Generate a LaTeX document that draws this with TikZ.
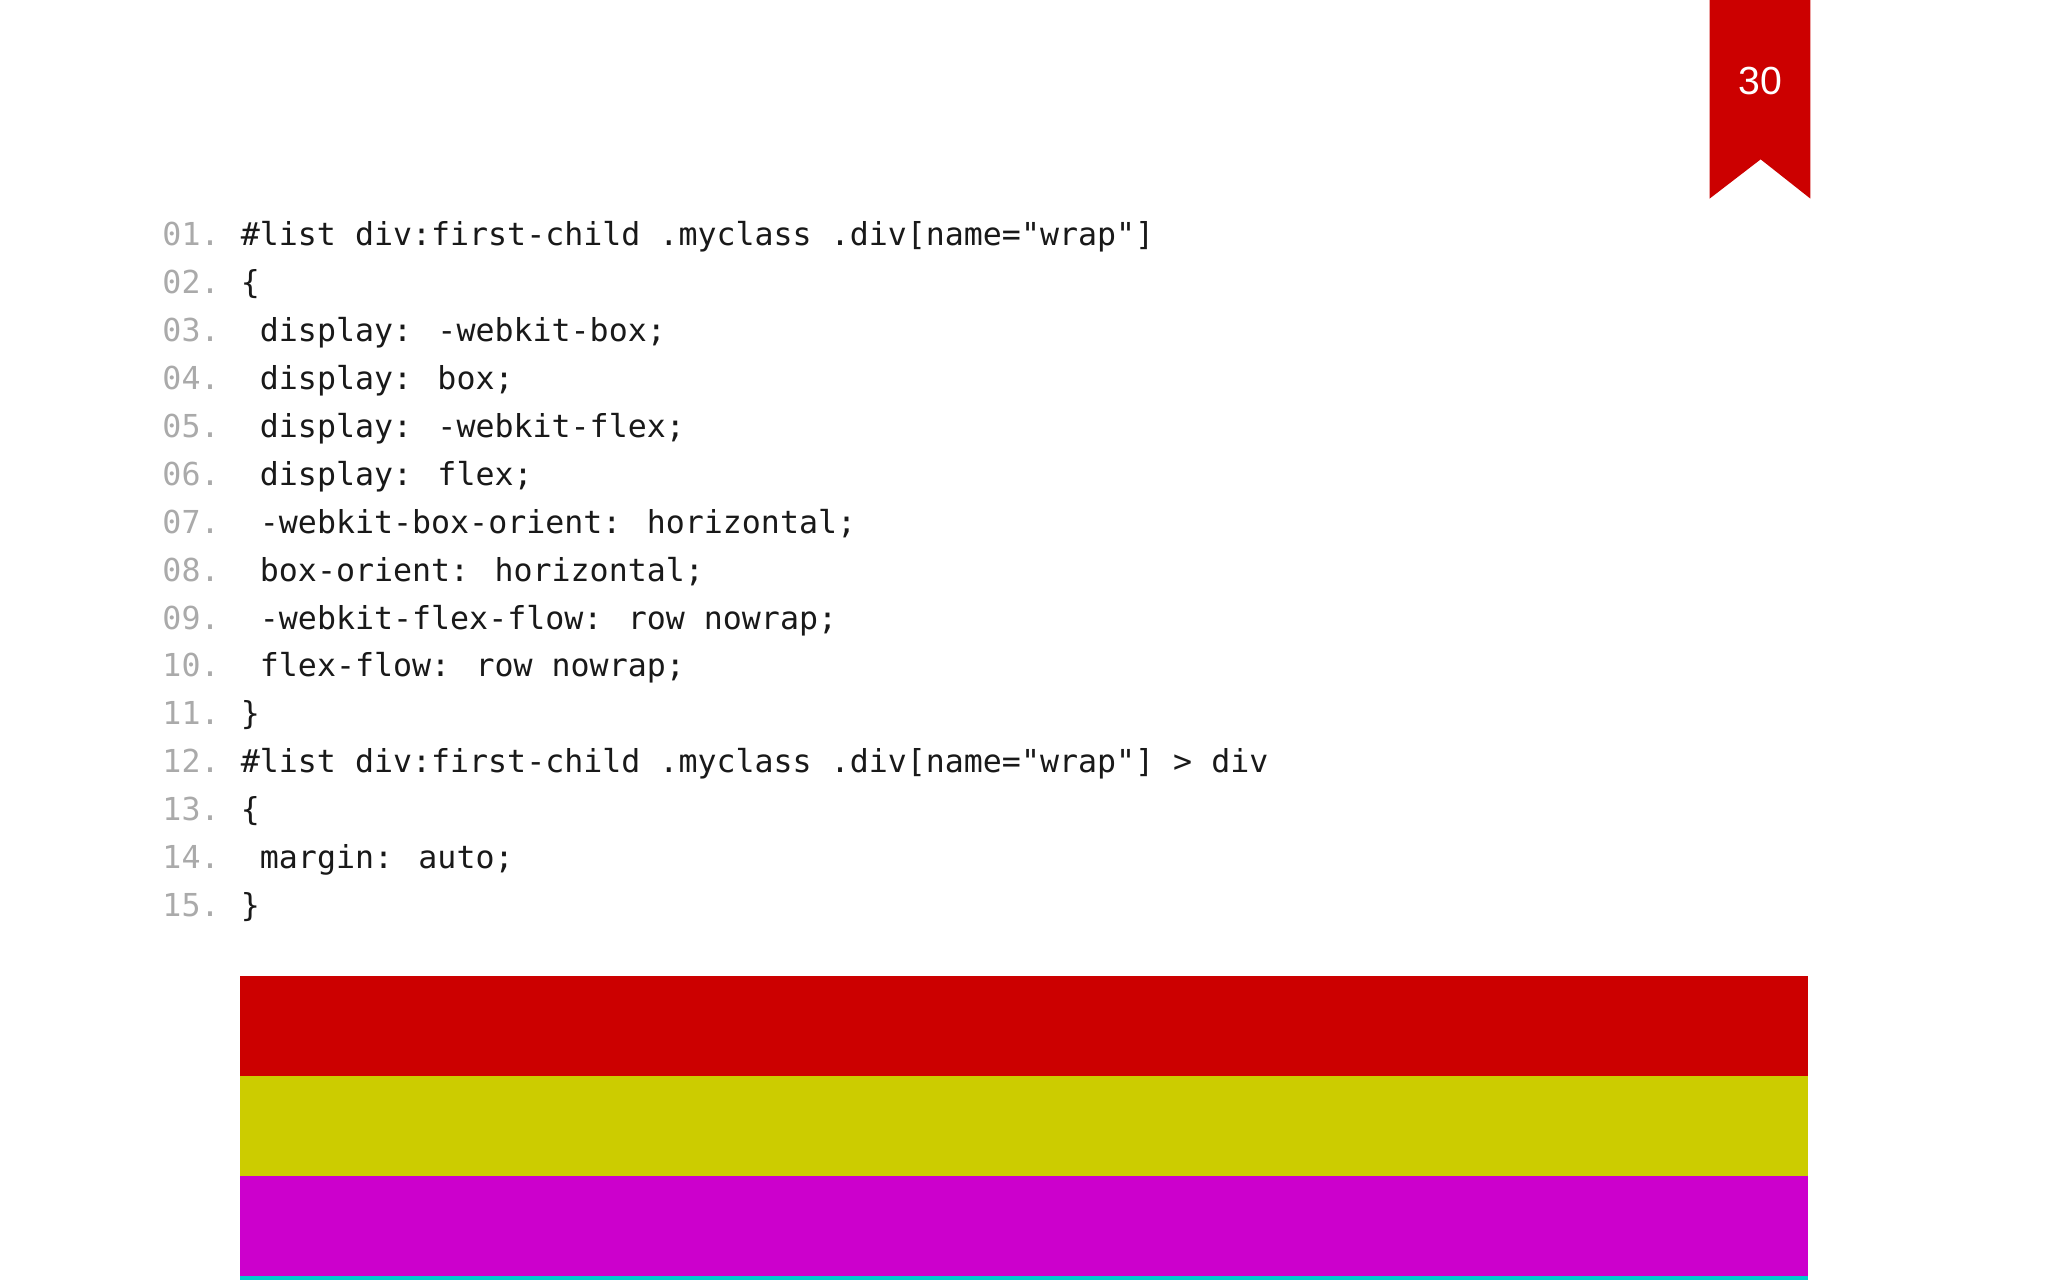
\documentclass[tikz,border=0pt]{standalone}
\usepackage{fontspec}
\setmainfont{Liberation Sans}
\newfontfamily\codefont{DejaVu Sans Mono}
\definecolor{rd}{HTML}{CC0000}
\definecolor{yl}{HTML}{CCCC00}
\definecolor{mg}{HTML}{CC00CC}
\definecolor{cy}{HTML}{00CCCC}
\definecolor{numgray}{HTML}{AAAAAA}
\tikzset{
 code/.style={anchor=base west,inner sep=0pt,font=\codefont\fontsize{12.1}{14}\selectfont,text=black!90},
 num/.style={code,text=numgray},
}
\begin{document}
\begin{tikzpicture}[x=0.5pt,y=-0.5pt]
\useasboundingbox (0,0) rectangle (1568,980);
\fill[white] (0,0) rectangle (1568,980);
\fill[rd] (1309,0) -- (1386,0) -- (1386,152) -- (1348,122) -- (1309,152) -- cycle;
\node[text=white,font=\fontsize{15}{18}\selectfont] (pg) at (1348,62) {30};
\foreach \n/\t/\ind [count=\i] in {
 01/{\#list div:first-child .myclass .div[name="wrap"]}/0,
 02/{\{}/0,
 03/{display: -webkit-box;}/1,
 04/{display: box;}/1,
 05/{display: -webkit-flex;}/1,
 06/{display: flex;}/1,
 07/{-webkit-box-orient: horizontal;}/1,
 08/{box-orient: horizontal;}/1,
 09/{-webkit-flex-flow: row nowrap;}/1,
 10/{flex-flow: row nowrap;}/1,
 11/{\}}/0,
 12/{\#list div:first-child .myclass .div[name="wrap"] > div}/0,
 13/{\{}/0,
 14/{margin: auto;}/1,
 15/{\}}/0}{
 \node[num] (n\i) at (124,{181+7+(\i-1)*36.7}) {\n.};
 \node[code] (c\i) at ({184+\ind*14.6},{181+7+(\i-1)*36.7}) {\t};
}
\fill[rd] (184,747) rectangle (1384,824);
\fill[yl] (184,824) rectangle (1384,900);
\fill[mg] (184,900) rectangle (1384,977);
\fill[cy] (184,977) rectangle (1384,980);
\end{tikzpicture}
\end{document}
